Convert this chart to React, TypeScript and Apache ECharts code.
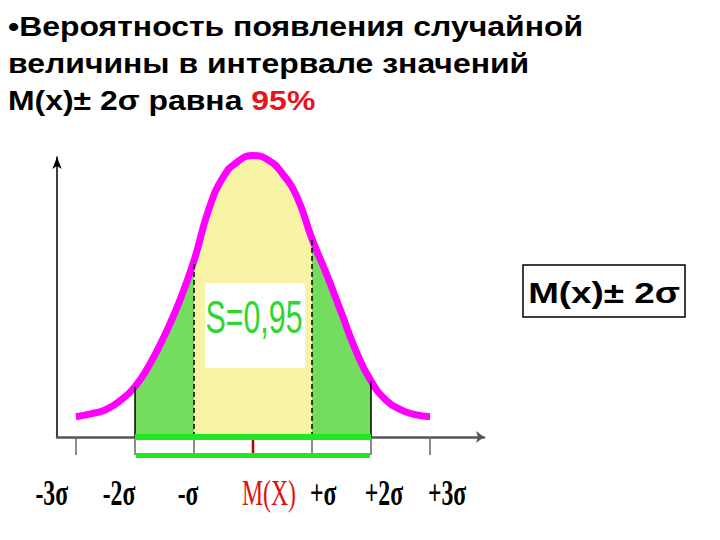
import React, { useEffect, useRef } from "react";
import * as echarts from "echarts";

// ---- data ----
const sigmaX = [-3, -2.75, -2.5, -2.25, -2, -1.75, -1.5, -1.25, -1, -0.75, -0.5, -0.25, 0, 0.25, 0.5, 0.75, 1, 1.25, 1.5, 1.75, 2, 2.25, 2.5, 2.75, 3];
const curveY = [0.029, 0.033, 0.039, 0.052, 0.072, 0.104, 0.145, 0.193, 0.252, 0.325, 0.372, 0.394, 0.402, 0.396, 0.376, 0.342, 0.283, 0.232, 0.177, 0.122, 0.08, 0.053, 0.039, 0.032, 0.029];
const tickValues = [-3, -2, -1, 0, 1, 2, 3];
const tickLabels = ["-3σ", "-2σ", "-σ", "M(X)", "+σ", "+2σ", "+3σ"];
const titleLines = ["•Вероятность появления случайной", "величины в интервале значений", "M(x)± 2σ равна "];
const titleHighlight = "95%";
const areaText = "S=0,95";
const boxText = "M(x)± 2σ";
const innerRange = [-1, 1];
const outerRange = [-2, 2];

// ---- layout (not data) ----
const labelAnchors = [-3.41, -2.27, -1.1, 0.27, 1.19, 2.22, 3.29];

const pick = (lo: number, hi: number) =>
  sigmaX.map((x, i) => [x, curveY[i]]).filter(([x]) => x >= lo - 1e-9 && x <= hi + 1e-9);
const heightAt = (x: number) => curveY[sigmaX.indexOf(x)];

export default function App() {
  const ref = useRef<HTMLDivElement>(null);
  useEffect(() => {
    if (!ref.current) return;
    const chart = echarts.init(ref.current, undefined, { renderer: "svg" });
    const yellow = "#f8f4a6";
    const green = "#74dc5e";
    const areaSeries = (data: number[][], color: string) => ({
      type: "line",
      data,
      smooth: true,
      symbol: "none",
      clip: false,
      silent: true,
      z: 1,
      lineStyle: { width: 0 },
      areaStyle: { color, opacity: 1 },
    });
    const vline = (x: number, style: any) => [
      { coord: [x, 0], lineStyle: style },
      { coord: [x, heightAt(x)] },
    ];
    chart.setOption({
      animation: false,
      grid: { left: 57, right: 236, top: 157, bottom: 103 },
      xAxis: {
        type: "value",
        min: -3.322,
        max: 3.915,
        axisLine: { show: true, onZero: true, symbol: ["none", "arrow"], symbolSize: [9, 8], lineStyle: { color: "#555", width: 2.5 } },
        axisTick: { show: true, customValues: tickValues, inside: false, length: 18, lineStyle: { color: "#666", width: 1.5 } },
        axisLabel: { show: false },
        splitLine: { show: false },
      },
      yAxis: {
        type: "value",
        min: 0,
        max: 0.4,
        axisLine: { show: true, onZero: false, symbol: ["none", "arrow"], symbolSize: [7, 12], lineStyle: { color: "#000", width: 1.5 } },
        axisTick: { show: false },
        axisLabel: { show: false },
        splitLine: { show: false },
      },
      series: [
        areaSeries(pick(innerRange[0], innerRange[1]), yellow),
        areaSeries(pick(outerRange[0], innerRange[0]), green),
        areaSeries(pick(innerRange[1], outerRange[1]), green),
        {
          type: "line",
          data: sigmaX.map((x, i) => [x, curveY[i]]),
          symbol: "none",
          silent: true,
          z: 2,
          lineStyle: { width: 0, opacity: 0 },
          markLine: {
            silent: true,
            symbol: "none",
            label: { show: false },
            data: [
              vline(outerRange[0], { color: "#000", width: 1.5, type: "solid" }),
              vline(outerRange[1], { color: "#000", width: 1.5, type: "solid" }),
              vline(innerRange[0], { color: "#000", width: 1.5, type: [5, 3] }),
              vline(innerRange[1], { color: "#000", width: 1.5, type: [5, 3] }),
              vline(0, { color: "#555", width: 1.5, type: [7, 4] }),
              [
                { coord: [outerRange[0], 0], lineStyle: { color: "#22e822", width: 6, type: "solid" } },
                { coord: [outerRange[1], 0] },
              ],
            ],
          },
        },
        {
          type: "line",
          data: sigmaX.map((x, i) => [x, curveY[i]]),
          smooth: true,
          symbol: "none",
          clip: false,
          silent: true,
          z: 3,
          lineStyle: { color: "#ff00ff", width: 7, cap: "butt" },
        },
      ],
    });

    const px = (x: number, y: number) => chart.convertToPixel({ gridIndex: 0 }, [x, y]) as number[];
    const zero = px(0, 0);
    const left2 = px(outerRange[0], 0);
    const right2 = px(outerRange[1], 0);
    const sansFamily = "'Liberation Sans', Arial, sans-serif";
    const sansTxt = (text: string, x: number, y: number, fontSize: number, scaleX: number, extra: any = {}) => ({
      type: "text",
      x,
      y,
      scaleX,
      z: 100,
      style: {
        text,
        fontSize,
        fontWeight: "bold",
        fontFamily: sansFamily,
        fill: "#000",
        align: "left",
        verticalAlign: "middle",
        ...extra,
      },
    });
    const graphics: any[] = [
      sansTxt(titleLines[0], 8, 26.6, 27, 1.183),
      sansTxt(titleLines[1], 8, 63.6, 27, 1.183),
      {
        type: "text",
        x: 8,
        y: 100.6,
        scaleX: 1.183,
        z: 100,
        style: {
          text: `{b|${titleLines[2]}}{r|${titleHighlight}}`,
          align: "left",
          verticalAlign: "middle",
          rich: {
            b: { fontSize: 27, fontWeight: "bold", fontFamily: sansFamily, fill: "#000", color: "#000" },
            r: { fontSize: 27, fontWeight: "bold", fontFamily: sansFamily, fill: "#e8141c", color: "#e8141c" },
          },
        },
      },
      // S box
      { type: "rect", z: 90, shape: { x: zero[0] - 48, y: 283, width: 100, height: 85 }, style: { fill: "#fff" } },
      {
        type: "text",
        x: zero[0] + 1,
        y: 317,
        scaleX: 0.66,
        z: 100,
        style: { text: areaText, fontSize: 46, fontFamily: sansFamily, fill: "#2bd82b", align: "center", verticalAlign: "middle" },
      },
      // lower green bar
      { type: "rect", z: 95, shape: { x: left2[0] + 1, y: zero[1] + 16, width: right2[0] - left2[0] - 2, height: 5 }, style: { fill: "#22e822" } },
      // red tick at M(X)
      { type: "line", z: 96, shape: { x1: zero[0], y1: zero[1] + 3, x2: zero[0], y2: zero[1] + 16 }, style: { stroke: "#b00000", lineWidth: 2.5 } },
      // right box
      { type: "rect", z: 90, shape: { x: 523, y: 265, width: 162, height: 52 }, style: { fill: "#fff", stroke: "#000", lineWidth: 1.5 } },
      sansTxt(boxText, 604, 293, 29, 1.27, { align: "center" }),
    ];
    tickLabels.forEach((lab, i) => {
      const isMean = tickValues[i] === 0;
      graphics.push({
        type: "text",
        x: px(labelAnchors[i], 0)[0],
        y: 493,
        scaleX: 0.66,
        z: 100,
        style: {
          text: lab,
          fontSize: 36,
          fontWeight: isMean ? "normal" : "bold",
          fontFamily: "'Liberation Serif', 'Times New Roman', serif",
          fill: isMean ? "#e01010" : "#000",
          align: "center",
          verticalAlign: "middle",
        },
      });
    });
    chart.setOption({ graphic: graphics });
    return () => chart.dispose();
  }, []);
  return <div ref={ref} style={{ width: 720, height: 540, position: "absolute", left: 0, top: 0 }} />;
}
